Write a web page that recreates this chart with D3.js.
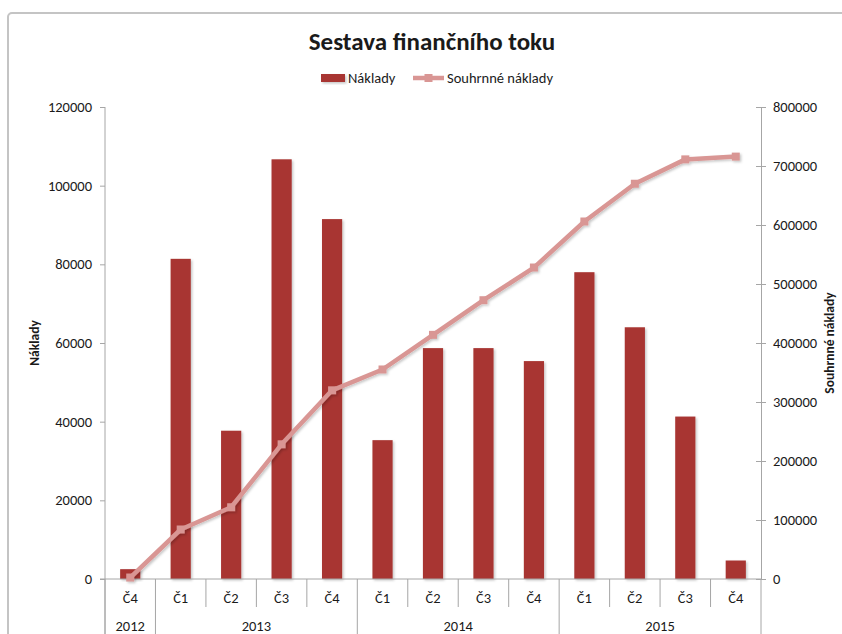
<!DOCTYPE html>
<html>
<head>
<meta charset="utf-8">
<script src="https://cdn.jsdelivr.net/npm/d3@7"></script>
<style>
  body { margin: 0; background: #fff; }
  svg text { font-family: Carlito, Calibri, "Liberation Sans", Arial, sans-serif; fill: #1a1a1a; }
</style>
</head>
<body>
<div id="chart"></div>
<script>
// data
var quarters = ["Č4", "Č1", "Č2", "Č3", "Č4", "Č1", "Č2", "Č3", "Č4", "Č1", "Č2", "Č3", "Č4"];
var years = ["2012", "2013", "2014", "2015"];
var yearSpans = [1, 4, 4, 4];
var naklady = [2500, 81400, 37700, 106700, 91500, 35300, 58700, 58700, 55400, 78000, 64000, 41300, 4700];
var souhrnne = [2500, 83900, 121600, 228300, 319800, 355100, 413800, 472500, 527900, 605900, 669900, 711200, 715900];
var leftTicks = [0, 20000, 40000, 60000, 80000, 100000, 120000];
var rightTicks = [0, 100000, 200000, 300000, 400000, 500000, 600000, 700000, 800000];

var W = 842, H = 634;
var plotLeft = 105, plotRight = 761, plotTop = 107, plotBottom = 579;
var barColor = "#a83532", lineColor = "#d99694", axisColor = "#a6a6a6";

var svg = d3.select("#chart").append("svg")
  .attr("width", W)
  .attr("height", H);

// shadow like the excel one
var defs = svg.append("defs");
var f = defs.append("filter").attr("id", "shadow")
  .attr("x", "-20%").attr("y", "-20%").attr("width", "150%").attr("height", "150%");
f.append("feDropShadow")
  .attr("dx", 1.5).attr("dy", 1.5).attr("stdDeviation", 1)
  .attr("flood-color", "#000").attr("flood-opacity", 0.22);

// chart border
svg.append("rect")
  .attr("x", 8).attr("y", 13)
  .attr("width", 860).attr("height", 650)
  .attr("rx", 4)
  .attr("fill", "#fff")
  .attr("stroke", "#c4c4c4")
  .attr("stroke-width", 2);

// title
svg.append("text")
  .attr("x", 432).attr("y", 50)
  .attr("text-anchor", "middle")
  .style("font-size", "25px")
  .style("font-weight", "bold")
  .text("Sestava finančního toku");

// scales
var x = d3.scaleBand()
  .domain(d3.range(quarters.length))
  .range([plotLeft, plotRight])
  .paddingInner(0)
  .paddingOuter(0);

var y = d3.scaleLinear().domain([0, 120000]).range([plotBottom, plotTop]);
var y2 = d3.scaleLinear().domain([0, 800000]).range([plotBottom, plotTop]);

var barW = x.bandwidth() / 2.5;

// bars
svg.append("g")
  .selectAll("rect.bar")
  .data(naklady)
  .enter()
  .append("rect")
  .attr("class", "bar")
  .attr("x", function(d, i) { return x(i) + (x.bandwidth() - barW) / 2; })
  .attr("y", function(d) { return y(d); })
  .attr("width", barW)
  .attr("height", function(d) { return plotBottom - y(d); })
  .attr("fill", barColor)
  .attr("filter", "url(#shadow)");

// left axis
var gLeft = svg.append("g")
  .attr("transform", "translate(" + plotLeft + ",0)")
  .call(d3.axisLeft(y).tickValues(leftTicks).tickSize(5).tickSizeOuter(0).tickPadding(8).tickFormat(d3.format("d")));

// right axis
var gRight = svg.append("g")
  .attr("transform", "translate(" + plotRight + ",0)")
  .call(d3.axisRight(y2).tickValues(rightTicks).tickSize(5).tickSizeOuter(0).tickPadding(7).tickFormat(d3.format("d")));
gRight.selectAll(".tick line").attr("x1", -5);

[gLeft, gRight].forEach(function(g) {
  g.select(".domain").attr("stroke", axisColor);
  g.selectAll(".tick line").attr("stroke", axisColor);
  g.selectAll(".tick text")
    .style("font-size", "14.5px")
    .attr("fill", "#1a1a1a");
});
gLeft.select(".domain").attr("d", "M0," + plotTop + "V" + H);

// x axis line
svg.append("line")
  .attr("x1", plotLeft - 5).attr("x2", plotRight)
  .attr("y1", plotBottom).attr("y2", plotBottom)
  .attr("stroke", axisColor);

// quarter separators
var yearStarts = [];
var acc = 0;
yearSpans.forEach(function(s) { yearStarts.push(acc); acc += s; });

svg.append("g")
  .selectAll("line.sep")
  .data(d3.range(quarters.length + 1))
  .enter()
  .append("line")
  .attr("class", "sep")
  .attr("x1", function(i) { return i < quarters.length ? x(i) : plotRight; })
  .attr("x2", function(i) { return i < quarters.length ? x(i) : plotRight; })
  .attr("y1", plotBottom)
  .attr("y2", function(i) { return (yearStarts.indexOf(i) >= 0 || i == quarters.length) ? H : 607; })
  .attr("stroke", axisColor);

// quarter labels
svg.append("g")
  .selectAll("text.q")
  .data(quarters)
  .enter()
  .append("text")
  .attr("class", "q")
  .attr("x", function(d, i) { return x(i) + x.bandwidth() / 2; })
  .attr("y", 603)
  .attr("text-anchor", "middle")
  .style("font-size", "14.5px")
  .text(function(d) { return d; });

// year labels
svg.append("g")
  .selectAll("text.yr")
  .data(years)
  .enter()
  .append("text")
  .attr("class", "yr")
  .attr("x", function(d, i) {
    var a = x(yearStarts[i]);
    var b = yearStarts[i] + yearSpans[i] >= quarters.length ? plotRight : x(yearStarts[i] + yearSpans[i]);
    return (a + b) / 2;
  })
  .attr("y", 631)
  .attr("text-anchor", "middle")
  .style("font-size", "14.5px")
  .text(function(d) { return d; });

// cumulative line
var line = d3.line()
  .x(function(d, i) { return x(i) + x.bandwidth() / 2; })
  .y(function(d) { return y2(d); });

var gLine = svg.append("g").attr("filter", "url(#shadow)");
gLine.append("path")
  .datum(souhrnne)
  .attr("d", line)
  .attr("fill", "none")
  .attr("stroke", lineColor)
  .attr("stroke-width", 4.5)
  .attr("stroke-linejoin", "round");

gLine.selectAll("rect.mk")
  .data(souhrnne)
  .enter()
  .append("rect")
  .attr("class", "mk")
  .attr("x", function(d, i) { return x(i) + x.bandwidth() / 2 - 4; })
  .attr("y", function(d) { return y2(d) - 4; })
  .attr("width", 8)
  .attr("height", 8)
  .attr("fill", lineColor);

// axis titles
svg.append("text")
  .attr("transform", "translate(39," + ((plotTop + plotBottom) / 2) + ") rotate(-90)")
  .attr("text-anchor", "middle")
  .style("font-size", "13.5px")
  .style("font-weight", "bold")
  .text("Náklady");

svg.append("text")
  .attr("transform", "translate(834," + ((plotTop + plotBottom) / 2) + ") rotate(-90)")
  .attr("text-anchor", "middle")
  .style("font-size", "13.5px")
  .style("font-weight", "bold")
  .text("Souhrnné náklady");

// legend
var lg = svg.append("g");
lg.append("rect")
  .attr("x", 321).attr("y", 74)
  .attr("width", 24).attr("height", 8)
  .attr("fill", barColor)
  .attr("filter", "url(#shadow)");
lg.append("text")
  .attr("x", 348).attr("y", 83)
  .style("font-size", "14.5px")
  .text("Náklady");
lg.append("line")
  .attr("x1", 413).attr("x2", 444)
  .attr("y1", 78).attr("y2", 78)
  .attr("stroke", lineColor)
  .attr("stroke-width", 4.5);
lg.append("rect")
  .attr("x", 424.5).attr("y", 74)
  .attr("width", 8).attr("height", 8)
  .attr("fill", lineColor);
lg.append("text")
  .attr("x", 447).attr("y", 83)
  .style("font-size", "14.5px")
  .text("Souhrnné náklady");
</script>
</body>
</html>
